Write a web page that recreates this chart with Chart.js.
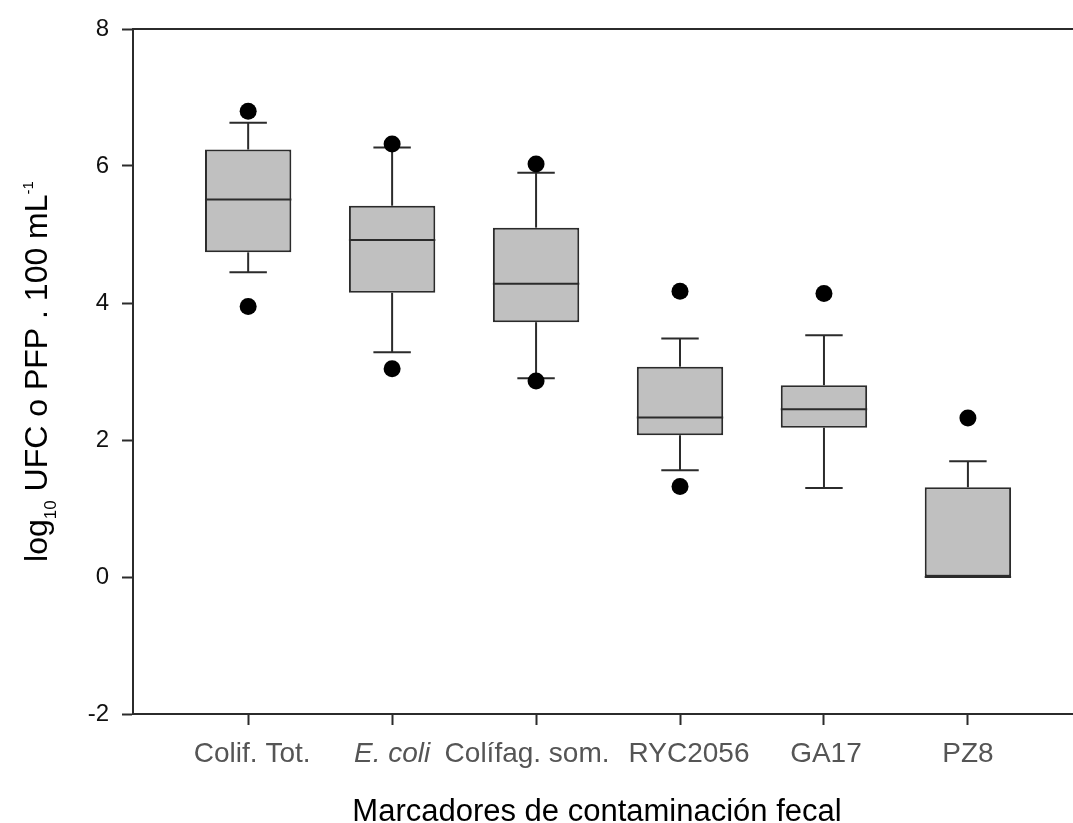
<!DOCTYPE html>
<html>
<head>
<meta charset="utf-8">
<script src="https://cdn.jsdelivr.net/npm/chart.js@4.4.1/dist/chart.umd.min.js"></script>
<style>
html,body{margin:0;padding:0;background:#fff;}
#c{display:block;}
</style>
</head>
<body>
<canvas id="c" width="1073" height="823" style="width:1073px;height:823px"></canvas>
<script>
// ---- data ----
const categories  = ['Colif. Tot.', 'E. coli', 'Colífag. som.', 'RYC2056', 'GA17', 'PZ8'];
const positions   = [1, 2, 3, 4, 5, 6];
const q1          = [4.74, 4.15, 3.72, 2.07, 2.18, 0.00];
const median      = [5.51, 4.92, 4.28, 2.33, 2.45, 0.00];
const q3          = [6.24, 5.42, 5.10, 3.07, 2.80, 1.31];
const whiskerLow  = [4.45, 3.28, 2.90, 1.56, 1.30, 0.00];
const whiskerHigh = [6.63, 6.27, 5.90, 3.48, 3.53, 1.69];
const outlierPos  = [1, 1, 2, 2, 3, 3, 4, 4, 5, 6];
const outlierVal  = [6.80, 3.95, 6.32, 3.04, 6.03, 2.86, 4.17, 1.32, 4.14, 2.32];
const yTicks      = [-2, 0, 2, 4, 6, 8];
const xTitle = 'Marcadores de contaminación fecal';
const yTitleParts = [
  {t: 'log', k: 'n'}, {t: '10', k: 'sub'}, {t: ' UFC o PFP . 100 mL', k: 'n'}, {t: '-1', k: 'sup'}
];

// ---- styles ----
const FONT = "'Liberation Sans', Arial, sans-serif";
const AXIS_COLOR = '#2b2b2b';
const CAP_UNITS = 0.26;
const ITALIC_LABELS = ['E. coli'];
const LABEL_NUDGE_PX = [4, 0, -9, 9, 2, 0];   // label spreading as in the source plot

const boxPlugin = {
  id: 'boxWhiskers',
  afterDatasetDraw(chart, args) {
    if (args.index !== 1) return;
    const xs = chart.scales.x, ys = chart.scales.y, ctx = chart.ctx;
    const meta = chart.getDatasetMeta(1);
    const capHalf = (xs.getPixelForValue(1 + CAP_UNITS) - xs.getPixelForValue(1)) / 2;
    ctx.save();
    ctx.strokeStyle = AXIS_COLOR;
    ctx.lineWidth = 2;
    ctx.lineCap = 'butt';
    const seg = (x1, y1, x2, y2) => { ctx.beginPath(); ctx.moveTo(x1, y1); ctx.lineTo(x2, y2); ctx.stroke(); };
    positions.forEach((p, i) => {
      const px = xs.getPixelForValue(p);
      if (whiskerHigh[i] > q3[i]) {
        const yh = ys.getPixelForValue(whiskerHigh[i]);
        seg(px, ys.getPixelForValue(q3[i]), px, yh);
        seg(px - capHalf, yh, px + capHalf, yh);
      }
      if (whiskerLow[i] < q1[i]) {
        const yl = ys.getPixelForValue(whiskerLow[i]);
        seg(px, ys.getPixelForValue(q1[i]), px, yl);
        seg(px - capHalf, yl, px + capHalf, yl);
      }
      const bar = meta.data[i];
      const half = bar.width / 2;
      const ym = ys.getPixelForValue(median[i]);
      seg(px - half, ym, px + half, ym);
    });
    ctx.restore();
  },
  afterDraw(chart) {
    const ctx = chart.ctx, a = chart.chartArea, xs = chart.scales.x;
    ctx.save();
    // top frame line
    ctx.strokeStyle = AXIS_COLOR;
    ctx.lineWidth = 2;
    ctx.beginPath();
    ctx.moveTo(a.left, a.top);
    ctx.lineTo(chart.width, a.top);
    ctx.stroke();

    // category labels under the x ticks
    ctx.fillStyle = '#555';
    ctx.textAlign = 'center';
    ctx.textBaseline = 'alphabetic';
    positions.forEach((p, i) => {
      const it = ITALIC_LABELS.includes(categories[i]) ? 'italic ' : '';
      ctx.font = it + '28px ' + FONT;
      ctx.fillText(categories[i], xs.getPixelForValue(p) + LABEL_NUDGE_PX[i], a.bottom + 48);
    });

    // x title
    ctx.fillStyle = '#000';
    ctx.font = '31px ' + FONT;
    ctx.fillText(xTitle, (a.left + a.right) / 2 - 6, 821);

    // y title with subscript/superscript
    const sizes = {n: 32, sub: 17, sup: 15};
    const shift = {n: 0, sub: 9, sup: -14};
    let total = 0;
    yTitleParts.forEach(pt => { ctx.font = sizes[pt.k] + 'px ' + FONT; pt.w = ctx.measureText(pt.t).width; total += pt.w; });
    ctx.translate(47, (a.top + a.bottom) / 2);
    ctx.rotate(-Math.PI / 2);
    ctx.textAlign = 'left';
    let xx = -total / 2;
    yTitleParts.forEach(pt => {
      ctx.font = sizes[pt.k] + 'px ' + FONT;
      ctx.fillText(pt.t, xx, shift[pt.k]);
      xx += pt.w;
    });
    ctx.restore();
  }
};

const noPad = s => { s.paddingLeft = 0; s.paddingRight = 0; s.paddingTop = 0; s.paddingBottom = 0; };

new Chart(document.getElementById('c'), {
  type: 'bar',
  data: {
    datasets: [
      {
        type: 'scatter',
        order: 1,
        data: outlierPos.map((p, i) => ({x: p, y: outlierVal[i]})),
        backgroundColor: '#000',
        borderColor: '#000',
        borderWidth: 0,
        pointRadius: 8.5,
        pointHoverRadius: 8.5
      },
      {
        type: 'bar',
        order: 2,
        data: positions.map((p, i) => ({x: p, y: [q1[i], q3[i]]})),
        backgroundColor: '#c0c0c0',
        borderColor: AXIS_COLOR,
        borderWidth: 2,
        borderSkipped: false,
        barPercentage: 0.6,
        categoryPercentage: 1
      }
    ]
  },
  options: {
    responsive: false,
    animation: false,
    devicePixelRatio: 1,
    layout: {autoPadding: false, padding: {top: 29, right: 0, left: 0, bottom: 0}},
    plugins: {legend: {display: false}, tooltip: {enabled: false}},
    events: [],
    scales: {
      x: {
        type: 'linear',
        min: 0.2,
        max: 6.73,
        offset: false,
        afterBuildTicks: s => { s.ticks = positions.map(v => ({value: v})); },
        afterFit: s => { s.height = 109; noPad(s); },
        ticks: {display: false},
        grid: {display: true, offset: false, drawOnChartArea: false, drawTicks: true, tickLength: 11, tickColor: AXIS_COLOR, tickWidth: 2},
        border: {display: true, color: AXIS_COLOR, width: 2}
      },
      y: {
        type: 'linear',
        min: -2,
        max: 8,
        afterBuildTicks: s => { s.ticks = yTicks.map(v => ({value: v})); },
        afterFit: s => { s.width = 133; noPad(s); },
        ticks: {
          padding: 13,
          color: '#111',
          font: {family: FONT, size: 24}
        },
        grid: {display: true, drawOnChartArea: false, drawTicks: true, tickLength: 11, tickColor: AXIS_COLOR, tickWidth: 2},
        border: {display: true, color: AXIS_COLOR, width: 2}
      }
    }
  },
  plugins: [boxPlugin]
});
</script>
</body>
</html>
